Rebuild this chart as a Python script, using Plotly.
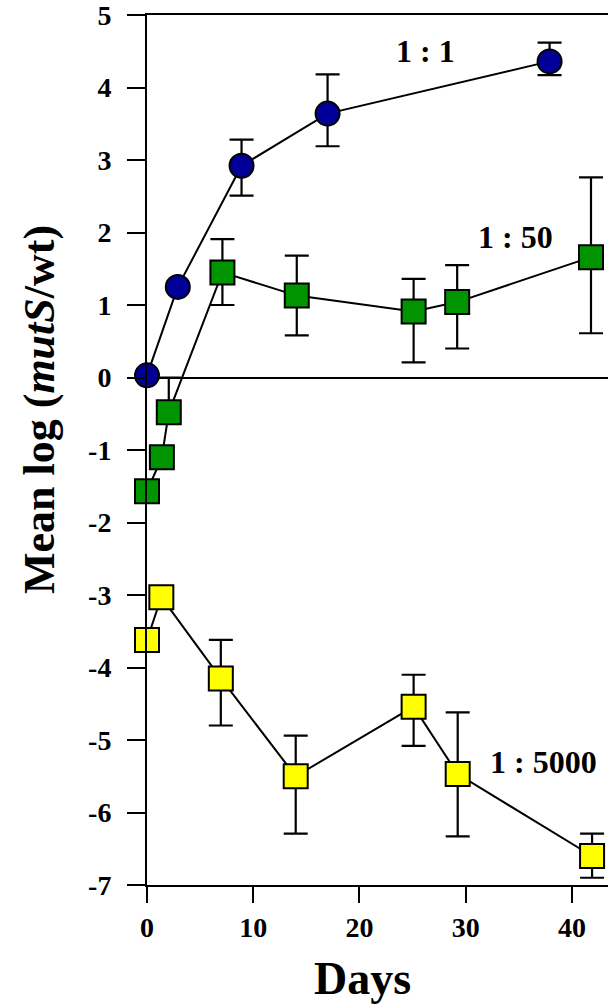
import plotly.graph_objects as go

# Mean log(mutS/wt) over time for three starting ratios
days_1_1 = [0, 2.9, 8.9, 17.0, 37.9]
mean_1_1 = [0.03, 1.25, 2.92, 3.64, 4.36]
err_up_1_1 = [0, 0, 0.36, 0.54, 0.26]
err_dn_1_1 = [0, 0, 0.41, 0.45, 0.19]

days_1_50 = [0, 1.4, 2.05, 7.1, 14.1, 25.1, 29.2, 41.8]
mean_1_50 = [-1.57, -1.10, -0.48, 1.45, 1.13, 0.91, 1.04, 1.66]
err_up_1_50 = [0, 0, 0.48, 0.46, 0.55, 0.45, 0.51, 1.10]
err_dn_1_50 = [0, 0, 0, 0.45, 0.55, 0.70, 0.64, 1.05]

days_1_5000 = [0, 1.35, 6.95, 14.0, 25.1, 29.25, 41.9]
mean_1_5000 = [-3.62, -3.03, -4.15, -5.50, -4.54, -5.47, -6.60]
err_up_1_5000 = [0, 0, 0.53, 0.56, 0.44, 0.85, 0.31]
err_dn_1_5000 = [0, 0, 0.65, 0.79, 0.54, 0.86, 0.30]

series_labels = ["1 : 1", "1 : 50", "1 : 5000"]
label_x = [26.2, 34.7, 37.3]
label_y = [4.50, 1.94, -5.30]

x_ticks = [0, 10, 20, 30, 40]
y_ticks = [5, 4, 3, 2, 1, 0, -1, -2, -3, -4, -5, -6, -7]
y_tick_text = [str(v) for v in y_ticks]  # plain hyphen for negatives

FONT = "Liberation Serif"

fig = go.Figure()


def add_series(x, y, up, dn, symbol, color):
    fig.add_trace(go.Scatter(
        x=x, y=y,
        mode="lines+markers",
        cliponaxis=False,
        line=dict(color="black", width=2),
        marker=dict(symbol=symbol, size=24, color=color,
                    line=dict(color="black", width=2)),
        error_y=dict(type="data", symmetric=False, array=up, arrayminus=dn,
                     color="black", thickness=2.2, width=12),
        showlegend=False,
    ))


add_series(days_1_1, mean_1_1, err_up_1_1, err_dn_1_1, "circle", "#000099")
add_series(days_1_50, mean_1_50, err_up_1_50, err_dn_1_50, "square", "#009400")
add_series(days_1_5000, mean_1_5000, err_up_1_5000, err_dn_1_5000, "square", "#FFFF00")

for txt, lx, ly in zip(series_labels, label_x, label_y):
    fig.add_annotation(x=lx, y=ly, text=f"<b>{txt}</b>", showarrow=False,
                       xanchor="center", yanchor="middle",
                       font=dict(family=FONT, size=32, color="black"))

# Axis titles
fig.add_annotation(xref="paper", yref="paper", x=-0.232, y=0.546,
                   text="<b>Mean log (<i>mutS</i>/wt)</b>", textangle=-90,
                   showarrow=False, xanchor="center", yanchor="middle",
                   font=dict(family=FONT, size=44, color="black"))
fig.add_annotation(xref="paper", yref="paper", x=0.4685, y=-0.1075,
                   text="<b>Days</b>", showarrow=False,
                   xanchor="center", yanchor="middle",
                   font=dict(family=FONT, size=46, color="black"))

fig.update_layout(
    width=608, height=1006,
    margin=dict(l=147, r=0, t=13, b=121),
    paper_bgcolor="white", plot_bgcolor="white",
    font=dict(family=FONT, color="black"),
    xaxis=dict(
        range=[0, 43.4], tickvals=x_ticks, ticktext=[f"<b>{v}</b>" for v in x_ticks],
        showline=True, mirror=True, linecolor="black", linewidth=2,
        ticks="outside", ticklen=16, tickwidth=2, tickcolor="black",
        showgrid=False, zeroline=False, ticklabeloverflow="allow",
        tickfont=dict(family=FONT, size=28, color="black"),
    ),
    yaxis=dict(
        range=[-7, 5], tickvals=y_ticks, ticktext=[f"<b>{t}</b>" for t in y_tick_text],
        showline=True, linecolor="black", linewidth=2,
        ticks="outside", ticklen=18, tickwidth=2, tickcolor="black",
        showgrid=False, zeroline=True, zerolinecolor="black", zerolinewidth=2,
        ticklabeloverflow="allow",
        tickfont=dict(family=FONT, size=28, color="black"),
        ticklabelstandoff=10,
    ),
)

fig.write_html("out.html")
